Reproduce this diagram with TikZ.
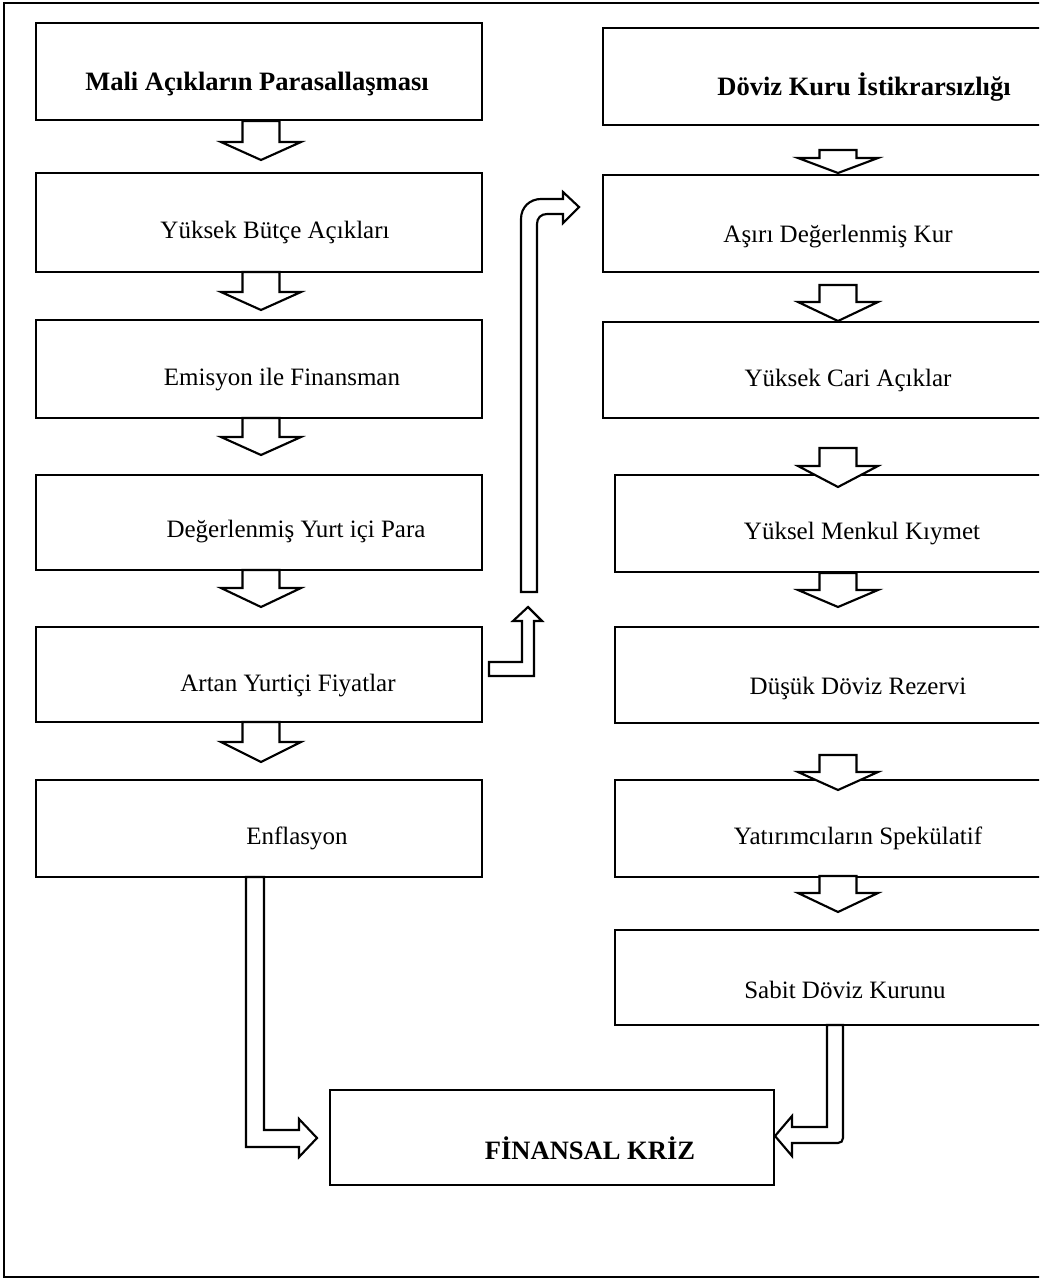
\documentclass[tikz,border=0pt]{standalone}
\usepackage{fontspec}
\setmainfont{Liberation Serif}
\usetikzlibrary{fit}
\begin{document}
\begin{tikzpicture}[x=0.75pt,y=-0.75pt,
  box/.style={draw=black,line width=1.6pt,inner sep=0pt,fill=white},
  txt/.style={font=\fontsize{18.75pt}{22pt}\selectfont,inner sep=0pt},
  btxt/.style={txt,font=\fontsize{19.9pt}{23pt}\selectfont\bfseries},
  blk/.style={draw=black,line width=1.6pt,fill=white,line join=miter}]
\clip (0,0) rectangle (1039,1280);
\useasboundingbox (0,0) rectangle (1039,1280);
% outer frame
\draw[line width=1.6pt] (4,3) rectangle (1060,1277);
% left column
\node[box,fit={(36,23) (482,120)}] (L1) {};
\node[box,fit={(36,173) (482,272)}] (L2) {};
\node[box,fit={(36,320) (482,418)}] (L3) {};
\node[box,fit={(36,475) (482,570)}] (L4) {};
\node[box,fit={(36,627) (482,722)}] (L5) {};
\node[box,fit={(36,780) (482,877)}] (L6) {};
% right column
\node[box,fit={(603,28) (1060,125)}] (R1) {};
\node[box,fit={(603,175) (1060,272)}] (R2) {};
\node[box,fit={(603,322) (1060,418)}] (R3) {};
\node[box,fit={(615,475) (1060,572)}] (R4) {};
\node[box,fit={(615,627) (1060,723)}] (R5) {};
\node[box,fit={(615,780) (1060,877)}] (R6) {};
\node[box,fit={(615,930) (1060,1025)}] (R7) {};
% final
\node[box,fit={(330,1090) (774,1185)}] (K) {};
% texts
\node[btxt] (tL1) at (257,84) {Mali Açıkların Parasallaşması};
\node[txt] (tL2) at (275,232) {Yüksek Bütçe Açıkları};
\node[txt] (tL3) at (282,380) {Emisyon ile Finansman};
\node[txt] (tL4) at (296,532) {Değerlenmiş Yurt içi Para};
\node[txt] (tL5) at (288,686) {Artan Yurtiçi Fiyatlar};
\node[txt] (tL6) at (297,838) {Enflasyon};
\node[btxt] (tR1) at (864,87) {Döviz Kuru İstikrarsızlığı};
\node[txt] (tR2) at (838,237) {Aşırı Değerlenmiş Kur};
\node[txt] (tR3) at (848,380) {Yüksek Cari Açıklar};
\node[txt] (tR4) at (862,534) {Yüksel Menkul Kıymet};
\node[txt] (tR5) at (858,688) {Düşük Döviz Rezervi};
\node[txt] (tR6) at (858,838) {Yatırımcıların Spekülatif};
\node[txt] (tR7) at (845,990) {Sabit Döviz Kurunu};
\node[btxt] (tK) at (590,1148) {FİNANSAL KRİZ};
% down block arrows: center x, top, head base, tip
\newcommand\darr[4]{\draw[blk] (#1-18.5,#2) -- (#1-18.5,#3) -- (#1-40,#3) -- (#1,#4) -- (#1+40,#3) -- (#1+18.5,#3) -- (#1+18.5,#2) -- cycle;}
\darr{261}{121}{142}{160}
\darr{261}{272}{292}{310}
\darr{261}{418}{437}{455}
\darr{261}{570}{588}{607}
\darr{261}{722}{742}{762}
\darr{838}{150}{158}{173}
\darr{838}{285}{302}{321}
\darr{838}{448}{466}{487}
\darr{838}{573}{590}{607}
\darr{838}{755}{772}{790}
\darr{838}{876}{893}{912}
% bent arrow from Artan upward
\draw[blk] (489,662) -- (522,662) -- (522,621) -- (513,621) -- (528,607) -- (542,621) -- (534,621) -- (534,676) -- (489,676) -- cycle;
% bent arrow to Asiri
\draw[blk] (521,592) -- (521,219) .. controls (521,207) and (530,199) .. (541,199) -- (563,199) -- (563,192) -- (579,207) -- (563,223) -- (563,214) -- (547,214) .. controls (541,214) and (537,218) .. (537,224) -- (537,592) -- cycle;
% double arrow Enflasyon -> Kriz
\draw[blk] (246,877) -- (246,1147) -- (299,1147) -- (299,1157) -- (317,1138) -- (299,1119) -- (299,1130) -- (264,1130) -- (264,877) -- cycle;
% double arrow Sabit -> Kriz
\draw[blk] (827,1025) -- (827,1127) -- (792,1127) -- (792,1116) -- (775,1136) -- (792,1156) -- (792,1143) -- (838,1143) .. controls (841,1143) and (843,1141) .. (843,1138) -- (843,1025) -- cycle;
\end{tikzpicture}
\end{document}
